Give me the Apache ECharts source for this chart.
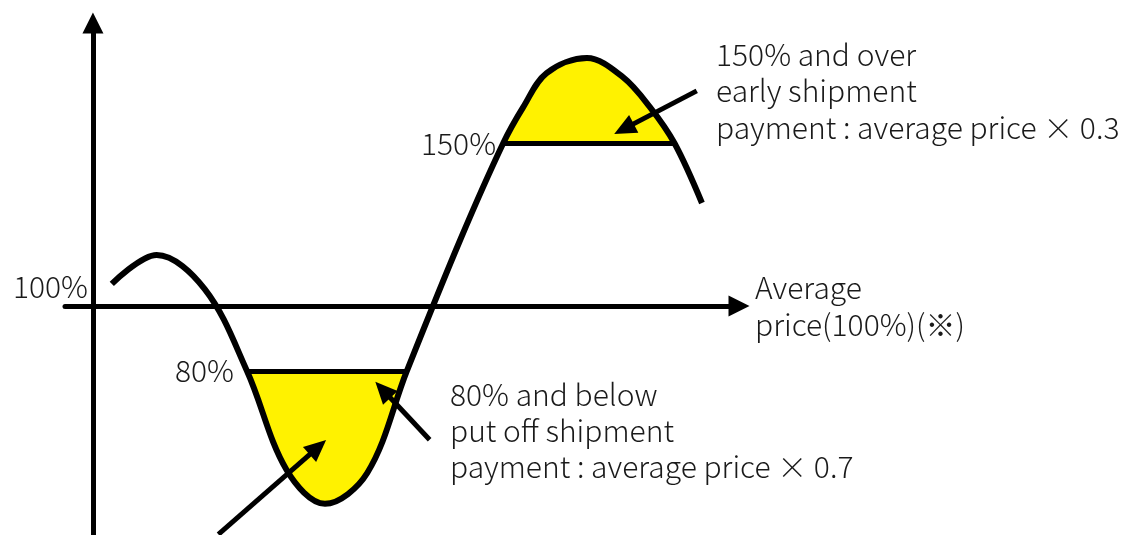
<!DOCTYPE html>
<html>
<head>
<meta charset="utf-8">
<title>Shipment timing chart</title>
<script src="https://cdn.jsdelivr.net/npm/echarts@6/dist/echarts.min.js"></script>
<style>
  html, body { margin: 0; padding: 0; background: #fff; }
  #chart { width: 1144px; height: 535px; }
</style>
</head>
<body>
<div id="chart"></div>
<script>
// price curve: [time, price in % of average]
const curve = [
  [2.9, 106.8], [9.8, 115.7], [17.2, 105.2], [23.7, 80], [29.8, 49.5],
  [35.7, 39.1], [42.2, 48.6], [48.3, 80], [56.5, 120.3], [63.1, 150],
  [66.2, 161.2], [69.8, 171.7], [76.0, 176.3], [81.5, 170.5], [85.7, 161.2],
  [89.5, 150], [93.7, 131.7]
];

const average = 100;
const lowLevel = 80;
const highLevel = 150;

// where the threshold lines meet the curve (time)
const lowSpan = [23.7, 48.3];
const highSpan = [63.1, 89.5];

// pointer arrows: [tail, head] in [time, %]
const arrows = [
  [[92.9, 166.2], [81.7, 154.5]],
  [[51.8, 58.8], [44.6, 74.2]],
  [[19.3, 29.7], [34.6, 56.5]]
];

const axisName = 'Average\nprice(100%)(※)';
const highNote = '150% and over\nearly shipment\npayment : average price × 0.3';
const lowNote = '80% and below\nput off shipment\npayment : average price × 0.7';

const font = '"Noto Sans CJK JP", "Noto Sans", sans-serif';
const ink = '#1a1a1a';
const yellow = '#FFF200';
const smooth = 0.35;

// y values are plotted relative to the average so the time axis sits on 100%
const rel = (p) => [p[0], p[1] - average];

const topFill = curve.filter((p) => p[1] >= highLevel).map(rel);
const bowlFill = curve.filter((p) => p[1] <= lowLevel).map(rel);

const chart = echarts.init(document.getElementById('chart'));

const arrowLines = arrows.map((a) => [
  { coord: rel(a[0]), symbol: 'none' },
  { coord: rel(a[1]), symbol: 'triangle', symbolSize: [20, 22] }
]);

const levelLine = (span, level, text, gap) => [
  {
    coord: [span[0], level - average],
    symbol: 'none',
    label: { show: true, position: 'start', formatter: text, distance: gap }
  },
  { coord: [span[1], level - average], symbol: 'none' }
];

chart.setOption({
  animation: false,
  grid: { left: 65, right: 405, top: 23, bottom: 0, containLabel: false, outerBoundsMode: 'none' },
  xAxis: {
    type: 'value',
    min: -4.3,
    max: 99.4,
    name: axisName,
    nameLocation: 'end',
    nameGap: 16,
    nameTextStyle: {
      fontFamily: font, fontSize: 30, fontWeight: 300, color: ink, lineHeight: 37,
      align: 'left', verticalAlign: 'middle'
    },
    axisLine: {
      show: true,
      onZero: true,
      symbol: ['none', 'triangle'],
      symbolSize: [21, 21],
      lineStyle: { color: '#000', width: 5 }
    },
    axisTick: { show: false },
    axisLabel: { show: false },
    splitLine: { show: false }
  },
  yAxis: {
    type: 'value',
    min: -70.5,
    max: 87.1,
    axisLine: {
      show: true,
      onZero: true,
      symbol: ['none', 'triangle'],
      symbolSize: [21, 21],
      lineStyle: { color: '#000', width: 5 }
    },
    axisTick: { show: false },
    axisLabel: {
      show: true,
      customValues: [0],
      formatter: (v) => (v + average) + '%',
      // labels stay at the grid edge, pull them over to the zero-positioned axis
      margin: -23,
      verticalAlign: 'bottom',
      padding: [0, 0, 4, 0],
      fontFamily: font,
      fontSize: 30,
      fontWeight: 300,
      color: ink
    },
    splitLine: { show: false }
  },
  series: [
    {
      name: 'below 80%',
      type: 'line',
      data: bowlFill,
      smooth: smooth,
      showSymbol: false,
      silent: true,
      lineStyle: { width: 0 },
      areaStyle: { color: yellow, opacity: 1, origin: lowLevel - average },
      z: 1
    },
    {
      name: 'over 150%',
      type: 'line',
      data: topFill,
      smooth: smooth,
      showSymbol: false,
      silent: true,
      lineStyle: { width: 0 },
      areaStyle: { color: yellow, opacity: 1, origin: highLevel - average },
      z: 1
    },
    {
      name: 'price',
      type: 'line',
      data: curve.map(rel),
      smooth: smooth,
      showSymbol: false,
      silent: true,
      lineStyle: { color: '#000', width: 6 },
      z: 3,
      markLine: {
        silent: true,
        symbol: ['none', 'none'],
        lineStyle: { color: '#000', width: 5, type: 'solid' },
        label: { fontFamily: font, fontSize: 30, fontWeight: 300, color: ink },
        emphasis: { disabled: true },
        data: [
          levelLine(lowSpan, lowLevel, '80%', 13),
          levelLine(highSpan, highLevel, '150%', 7)
        ].concat(arrowLines)
      }
    }
  ],
  graphic: [
    {
      type: 'text',
      left: 716,
      top: 36,
      style: { text: highNote, font: '300 30px ' + font, fill: ink, lineHeight: 36.5 }
    },
    {
      type: 'text',
      left: 450,
      top: 377,
      style: { text: lowNote, font: '300 30px ' + font, fill: ink, lineHeight: 36 }
    }
  ]
});
</script>
</body>
</html>
